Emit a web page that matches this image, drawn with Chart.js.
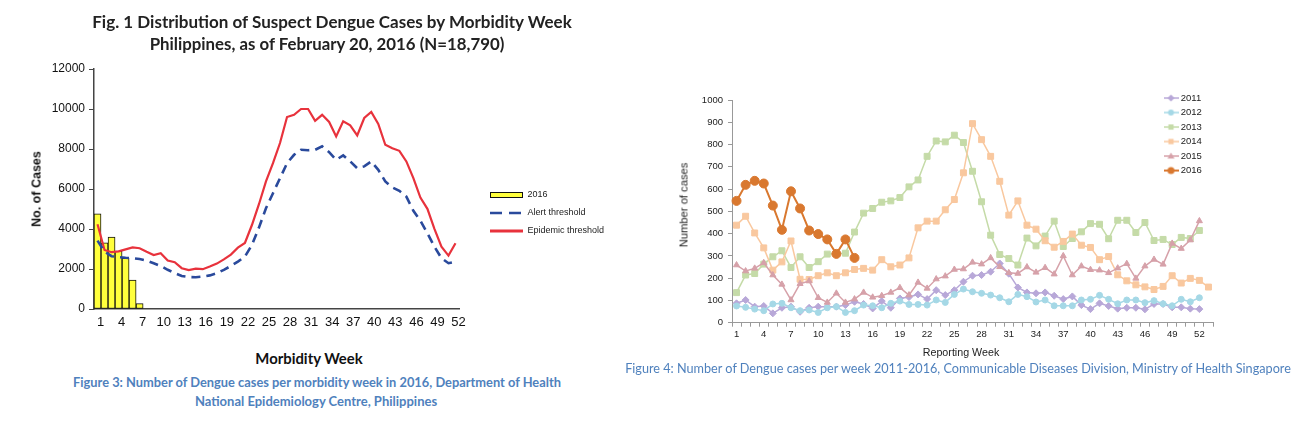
<!DOCTYPE html>
<html>
<head>
<meta charset="utf-8">
<script src="https://cdn.jsdelivr.net/npm/chart.js@4.4.1/dist/chart.umd.min.js"></script>
<style>
  html, body { margin:0; padding:0; background:#fff; }
  body { width:1298px; height:423px; position:relative; overflow:hidden; }
  canvas { position:absolute; }
  .t { position:absolute; white-space:nowrap; line-height:1; transform:translate(-50%,-50%); }
  .ttl { font-family:'Lato','Liberation Sans',sans-serif; font-weight:700; font-size:17px; color:#222; }
  .cap { font-family:'Lato','Liberation Sans',sans-serif; font-size:13px; color:#4f81bd; }
</style>
</head>
<body>
<canvas id="c1" width="640" height="330" style="left:0;top:0;width:640px;height:330px"></canvas>
<canvas id="c2" width="638" height="280" style="left:660px;top:85px;width:638px;height:280px"></canvas>

<div class="t ttl" data-w="480" style="left:332px;top:21px">Fig. 1 Distribution of Suspect Dengue Cases by Morbidity Week</div>
<div class="t ttl" data-w="355" style="left:327px;top:43px">Philippines, as of February 20, 2016 (N=18,790)</div>
<div class="t" data-w="76" data-r="1" style="left:36px;top:189px;font:bold 13px 'Liberation Sans',Arial,sans-serif;color:#111">No. of Cases</div>
<div class="t ttl" data-w="107" style="left:309px;top:358px;font-size:15px;color:#111">Morbidity Week</div>
<div class="t cap" data-w="488" style="left:317px;top:382px;font-weight:700">Figure 3: Number of Dengue cases per morbidity week in 2016, Department of Health</div>
<div class="t cap" data-w="242" style="left:316px;top:401px;font-weight:700">National Epidemiology Centre, Philippines</div>

<div class="t" data-w="85" data-r="1" style="left:684px;top:205px;font:10px 'Liberation Sans',Arial,sans-serif;color:#222">Number of cases</div>
<div class="t" data-w="77" style="left:961px;top:352px;font:10px 'Liberation Sans',Arial,sans-serif;color:#222">Reporting Week</div>
<div class="t cap" data-w="666" style="left:958px;top:368px">Figure 4: Number of Dengue cases per week 2011-2016, Communicable Diseases Division, Ministry of Health Singapore</div>

<script>
// ---------- Philippines (left chart) ----------
const phWeeks = Array.from({length:52}, (_, i) => String(i + 1));
const phCases2016 = [4760, 3310, 3590, 2890, 2530, 1440, 270];
const phAlert = [3420,2870,2640,2590,2560,2540,2500,2420,2290,2150,1960,1800,1650,1600,1590,1620,1680,1790,1960,2150,
                 2370,2620,3200,4070,5040,5790,6540,7290,7710,7960,7940,7960,8130,7840,7460,7680,7380,7040,7130,7380,
                 6960,6380,6080,5910,5620,4910,4410,3790,3120,2540,2290,2370];
const phEpidemic = [4240,2950,2840,2880,2980,3080,3040,2860,2700,2790,2420,2340,2040,1950,2020,1990,2120,2270,2480,2720,
                    3070,3300,4200,5240,6380,7290,8300,9600,9710,10000,10000,9410,9710,9350,8630,9380,9180,8680,9550,9850,
                    9250,8210,8040,7910,7380,6540,5570,5010,4010,3120,2670,3290];
const phYTicks = [0, 2000, 4000, 6000, 8000, 10000, 12000];

// ---------- Singapore (right chart) ----------
const sgWeeks = Array.from({length:53}, (_, i) => String(i + 1));
const sg2011 = [87,102,72,75,42,67,72,49,67,72,72,72,79,94,84,64,97,67,109,115,127,106,146,124,146,184,211,214,229,266,
                220,158,136,132,136,121,106,118,79,61,87,75,63,67,67,60,84,84,69,69,63,61];
const sg2012 = [75,69,61,54,84,87,67,54,57,46,67,72,46,54,79,76,67,87,97,82,82,79,102,91,127,151,139,132,124,112,
                94,127,117,93,102,76,76,76,102,105,123,105,85,102,102,90,99,85,76,105,94,112];
const sg2013 = [135,214,221,263,296,323,248,296,248,274,308,311,312,407,492,513,541,547,562,610,641,747,816,812,842,809,680,543,393,306,
                288,259,380,345,389,456,342,378,408,445,442,377,460,460,405,450,369,374,351,383,378,414];
const sg2014 = [438,478,403,336,236,273,367,195,194,211,224,211,224,239,244,236,283,251,259,291,426,456,456,507,553,673,894,822,747,635,
                483,547,438,420,368,339,365,398,348,338,283,297,215,188,170,161,149,163,211,178,199,190,160];
const sg2015 = [259,232,244,269,214,172,102,175,187,112,91,132,91,106,136,114,121,136,157,124,181,154,196,209,239,241,271,263,291,251,
                224,221,250,226,247,218,300,214,254,238,236,224,245,265,199,254,284,262,356,333,371,457];
const sg2016 = [547,619,637,625,526,417,590,513,414,398,374,309,374,291];

// ---------- helpers ----------
function fitTexts() {
  document.querySelectorAll('.t').forEach(el => {
    el.style.transform = 'none';
    const w = parseFloat(el.dataset.w);
    const actual = el.offsetWidth;
    const rot = el.dataset.r ? ' rotate(-90deg)' : '';
    el.style.transform = 'translate(-50%,-50%)' + rot + ' scaleX(' + (w / actual) + ')';
  });
}
fitTexts();
if (document.fonts && document.fonts.ready) document.fonts.ready.then(fitTexts);

function legendMover(left, top) {
  return {
    id: 'legendMover',
    afterLayout(chart) {
      const lg = chart.legend;
      if (!lg) return;
      const w = lg.right - lg.left, h = lg.bottom - lg.top;
      lg.left = left; lg.right = left + w;
      lg.top = top; lg.bottom = top + h;
    }
  };
}

function mk(w, h, fn) {
  const c = document.createElement('canvas');
  c.width = w; c.height = h;
  fn(c.getContext('2d'));
  return c;
}

// left legend swatches
const leftSwatches = [
  mk(33, 6, g => { g.fillStyle = '#ffff3c'; g.fillRect(0.5, 0.5, 32, 5); g.strokeStyle = '#111'; g.lineWidth = 1; g.strokeRect(0.5, 0.5, 32, 5); }),
  mk(33, 4, g => { g.strokeStyle = '#2a4a9c'; g.lineWidth = 2.6; g.setLineDash([12, 7]); g.beginPath(); g.moveTo(0, 2); g.lineTo(33, 2); g.stroke(); }),
  mk(33, 4, g => { g.strokeStyle = '#e8323c'; g.lineWidth = 3; g.beginPath(); g.moveTo(0, 2); g.lineTo(33, 2); g.stroke(); })
];

// right legend swatches
function sgSwatch(color, shape, r, lw) {
  return mk(15, 10, g => {
    g.strokeStyle = color; g.fillStyle = color; g.lineWidth = lw;
    g.beginPath(); g.moveTo(0, 5); g.lineTo(15, 5); g.stroke();
    const x = 7.5, y = 5;
    g.beginPath();
    if (shape === 'circle') { g.arc(x, y, r, 0, Math.PI * 2); }
    else if (shape === 'rect') { g.rect(x - r * 0.75, y - r * 0.75, r * 1.5, r * 1.5); }
    else if (shape === 'rectRot') { g.moveTo(x, y - r); g.lineTo(x + r, y); g.lineTo(x, y + r); g.lineTo(x - r, y); g.closePath(); }
    else if (shape === 'triangle') { g.moveTo(x, y - r); g.lineTo(x + r, y + r * 0.7); g.lineTo(x - r, y + r * 0.7); g.closePath(); }
    g.fill();
  });
}

const axisFontL = { family: "'Liberation Sans', Arial, sans-serif", size: 12 };
const axisFontR = { family: "'Liberation Sans', Arial, sans-serif", size: 9.5 };
const plainNum = v => String(v);

// ---------- left chart ----------
const C1H = 330;
new Chart(document.getElementById('c1'), {
  type: 'bar',
  data: {
    labels: phWeeks,
    datasets: [
      { type: 'bar', label: '2016', data: phCases2016, backgroundColor: '#ffff3c', borderColor: '#111', borderWidth: 1,
        borderSkipped: false, barPercentage: 1, categoryPercentage: 1, order: 2 },
      { type: 'line', label: 'Alert threshold', data: phAlert, borderColor: '#2a4a9c', borderWidth: 2.6, borderDash: [9, 6],
        pointRadius: 0, tension: 0, fill: false, order: 1 },
      { type: 'line', label: 'Epidemic threshold', data: phEpidemic, borderColor: '#e8323c', borderWidth: 2.2,
        pointRadius: 0, tension: 0, fill: false, order: 1 }
    ]
  },
  options: {
    responsive: false, animation: false,
    layout: { padding: { left: 0, top: 69, right: 181, bottom: 0 } },
    plugins: {
      tooltip: { enabled: false },
      legend: {
        position: 'chartArea', align: 'start',
        labels: {
          usePointStyle: true, pointStyleWidth: 33, padding: 9, color: '#222',
          font: { family: "'Liberation Sans', Arial, sans-serif", size: 9 },
          sort: (a, b) => a.datasetIndex - b.datasetIndex,
          generateLabels: (chart) => {
            const items = Chart.defaults.plugins.legend.labels.generateLabels(chart);
            items.forEach(it => { it.pointStyle = leftSwatches[it.datasetIndex]; });
            return items;
          }
        }
      }
    },
    scales: {
      x: {
        offset: true,
        grid: { display: true, drawOnChartArea: false, drawTicks: false },
        border: { color: '#444', width: 1.5 },
        ticks: { autoSkip: false, maxRotation: 0, minRotation: 0, labelOffset: 3, padding: 6, color: '#111',
                 font: { family: "'Liberation Sans', Arial, sans-serif", size: 13 },
                 callback: (v, i) => (i % 3 === 0 ? phWeeks[i] : '') },
        afterFit: s => { s.height = C1H - 309; }
      },
      y: {
        min: phYTicks[0], max: phYTicks[phYTicks.length - 1],
        afterBuildTicks: s => { s.ticks = phYTicks.map(v => ({ value: v })); },
        ticks: { padding: 4, color: '#111', font: axisFontL, callback: plainNum },
        grid: { drawOnChartArea: false, drawTicks: true, tickLength: 5, color: '#444' },
        border: { color: '#444', width: 1.5 },
        afterFit: s => { s.width = 94; }
      }
    }
  },
  plugins: [legendMover(481, 181.5)]
});

// ---------- right chart ----------
const sgSeries = [
  { label: '2011', data: sg2011, color: '#b8a8d8', shape: 'rectRot', r: 3.5, lw: 1.5 },
  { label: '2012', data: sg2012, color: '#a5d8e6', shape: 'circle', r: 3, lw: 1.5 },
  { label: '2013', data: sg2013, color: '#c5dba8', shape: 'rect', r: 4.2, lw: 1.5 },
  { label: '2014', data: sg2014, color: '#f9c89f', shape: 'rect', r: 4.2, lw: 1.5 },
  { label: '2015', data: sg2015, color: '#d6a1a9', shape: 'triangle', r: 3.5, lw: 1.5 },
  { label: '2016', data: sg2016, color: '#d9782f', shape: 'circle', r: 4.5, lw: 2 }
];
const rightSwatches = sgSeries.map(s => sgSwatch(s.color, s.shape, Math.min(s.r, 3.5), s.lw));

const C2H = 280;
new Chart(document.getElementById('c2'), {
  type: 'line',
  data: {
    labels: sgWeeks,
    datasets: sgSeries.map((s, i) => ({
      label: s.label, data: s.data, borderColor: s.color, backgroundColor: s.color,
      pointBackgroundColor: s.color, pointBorderColor: s.color, pointStyle: s.shape, pointRadius: s.r,
      pointBorderWidth: 1, borderWidth: s.lw, tension: 0, fill: false, order: sgSeries.length - i
    }))
  },
  options: {
    responsive: false, animation: false,
    layout: { padding: { left: 0, top: 15, right: 85, bottom: 0 } },
    plugins: {
      tooltip: { enabled: false },
      legend: {
        position: 'chartArea', align: 'start',
        labels: {
          usePointStyle: true, pointStyleWidth: 10, padding: 5, color: '#222',
          font: { family: "'Liberation Sans', Arial, sans-serif", size: 9.5 },
          sort: (a, b) => a.datasetIndex - b.datasetIndex,
          generateLabels: (chart) => {
            const items = Chart.defaults.plugins.legend.labels.generateLabels(chart);
            items.forEach(it => { it.pointStyle = rightSwatches[it.datasetIndex]; });
            return items;
          }
        }
      }
    },
    scales: {
      x: {
        offset: true,
        grid: { offset: true, drawOnChartArea: false, drawTicks: true, tickLength: 4, color: '#999' },
        border: { color: '#999', width: 1 },
        ticks: { autoSkip: false, maxRotation: 0, minRotation: 0, padding: 2, color: '#222', font: axisFontR,
                 callback: (v, i) => (i % 3 === 0 ? sgWeeks[i] : '') },
        afterFit: s => { s.height = C2H - 237.7; }
      },
      y: {
        min: 0, max: 1000,
        ticks: { stepSize: 100, padding: 5, color: '#222', font: axisFontR, callback: plainNum },
        grid: { drawOnChartArea: false, drawTicks: true, tickLength: 4, color: '#999' },
        border: { color: '#999', width: 1 },
        afterFit: s => { s.width = 72; }
      }
    }
  },
  plugins: [legendMover(501, 3.3)]
});
</script>
</body>
</html>
